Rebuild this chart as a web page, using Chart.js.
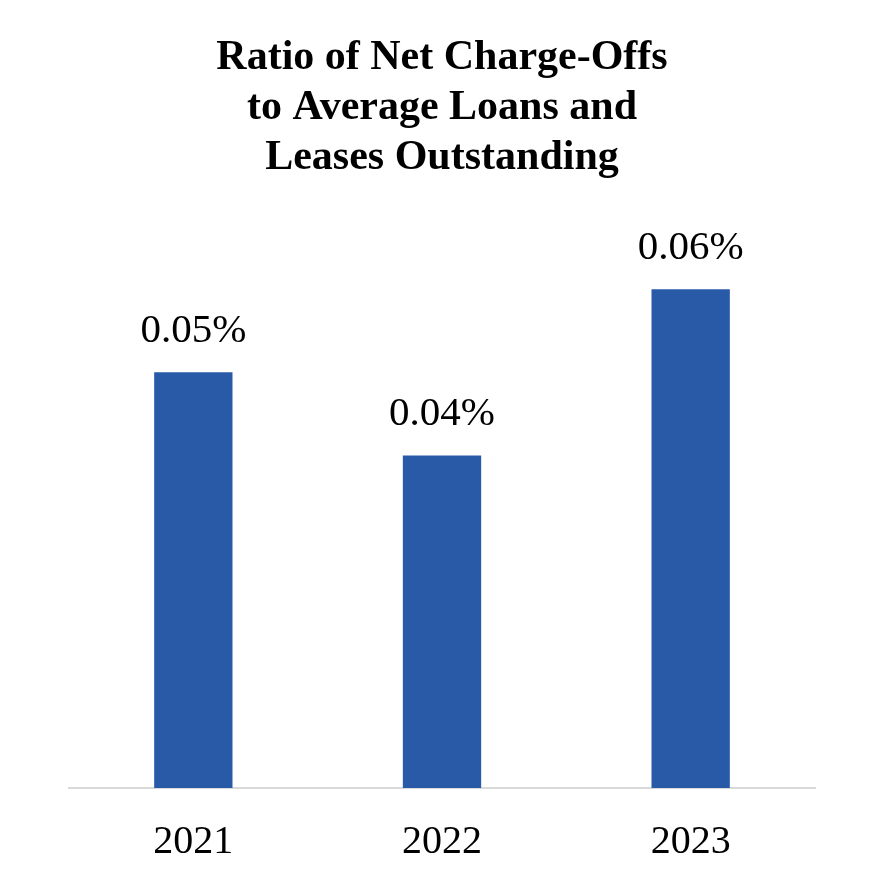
<!DOCTYPE html>
<html lang="en">
<head>
    <meta charset="UTF-8">
    <title>Ratio of Net Charge-Offs</title>
    <style>
        body {
            margin: 0;
            background: #ffffff;
        }
        .wrap {
            width: 875px;
            height: 879px;
        }
    </style>
    <script src="https://cdn.jsdelivr.net/npm/chart.js"></script>
</head>
<body>
    <div class="wrap">
        <canvas id="nco" width="875" height="879"></canvas>
    </div>

    <script>
        // chart data
        var years = ['2021', '2022', '2023'];
        var ratios = [0.05, 0.04, 0.06];
        var titleLines = ['Ratio of Net Charge-Offs', 'to Average Loans and', 'Leases Outstanding'];

        // value labels above the bars
        var valueLabels = {
            id: 'valueLabels',
            afterDatasetsDraw: function (chart) {
                var ctx = chart.ctx;
                var meta = chart.getDatasetMeta(0);
                ctx.save();
                ctx.font = '41px "Liberation Serif", "Times New Roman", serif';
                ctx.fillStyle = '#000000';
                ctx.textAlign = 'center';
                ctx.textBaseline = 'alphabetic';
                meta.data.forEach(function (bar, i) {
                    ctx.fillText(ratios[i].toFixed(2) + '%', bar.x, bar.y - 30);
                });
                ctx.restore();
            }
        };

        var ctx = document.getElementById('nco').getContext('2d');
        var ncoChart = new Chart(ctx, {
            type: 'bar',
            data: {
                labels: years,
                datasets: [{
                    data: ratios,
                    backgroundColor: '#285AA8',
                    borderWidth: 0,
                    categoryPercentage: 1,
                    barPercentage: 0.315
                }]
            },
            options: {
                responsive: false,
                animation: false,
                layout: {
                    padding: { left: 69, right: 60, top: 0, bottom: 0 }
                },
                plugins: {
                    legend: { display: false },
                    tooltip: { enabled: false },
                    title: {
                        display: true,
                        text: titleLines,
                        color: '#000000',
                        font: { family: '"Liberation Serif", "Times New Roman", serif', size: 42, weight: 'bold', lineHeight: 50 / 42 },
                        padding: { top: 33, bottom: 23 }
                    }
                },
                scales: {
                    x: {
                        grid: { display: false },
                        border: { display: true, color: '#d9d9d9', width: 2 },
                        ticks: {
                            color: '#000000',
                            padding: 22,
                            font: { family: '"Liberation Serif", "Times New Roman", serif', size: 40 }
                        },
                        afterFit: function (scale) {
                            scale.height = 91;
                        }
                    },
                    y: {
                        display: false,
                        min: 0,
                        max: 0.07
                    }
                }
            },
            plugins: [valueLabels]
        });
    </script>
</body>
</html>
